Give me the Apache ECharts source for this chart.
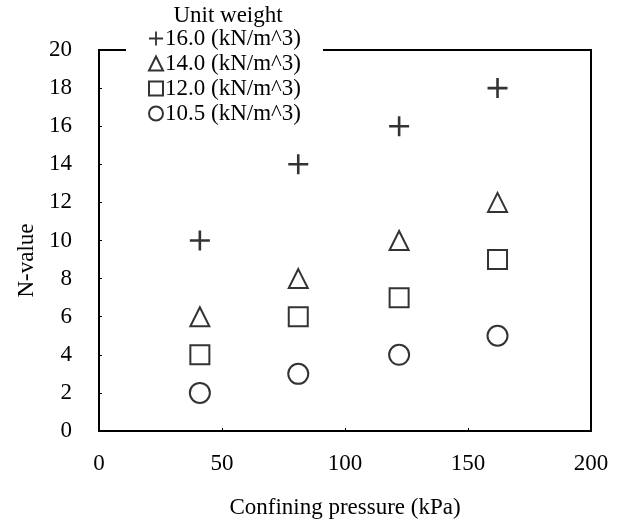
<!DOCTYPE html>
<html>
<head>
<meta charset="utf-8">
<script src="https://cdn.jsdelivr.net/npm/echarts@6/dist/echarts.min.js"></script>
<style>html,body{margin:0;padding:0;background:#fff}#c{width:620px;height:522px}</style>
</head>
<body>
<div id="c"></div>
<script>
var pressure = [41, 81, 122, 162];
var w160 = [10, 14, 16, 18];
var w140 = [6, 8, 10, 12];
var w120 = [4, 6, 7, 9];
var w105 = [2, 3, 4, 5];
var seriesNames = ['16.0 (kN/m^3)', '14.0 (kN/m^3)', '12.0 (kN/m^3)', '10.5 (kN/m^3)'];
var xTicks = [0, 50, 100, 150, 200];
var yTicks = [0, 2, 4, 6, 8, 10, 12, 14, 16, 18, 20];

var FONT = '"Liberation Serif", "Times New Roman", serif';
var plusPath = 'path://M0,4.35 H10 V5.65 H0 Z M4.35,0 H5.65 V10 H4.35 Z';

function pts(ys) { return pressure.map(function (x, i) { return [x, ys[i]]; }); }

var chart = echarts.init(document.getElementById('c'), null, { renderer: 'canvas' });
var hollow = { color: '#fff', borderColor: '#000', borderWidth: 2 };
chart.setOption({
  animation: false,
  backgroundColor: '#fff',
  textStyle: { fontFamily: FONT, color: '#000' },
  title: {
    text: 'Unit weight',
    left: 228, top: 4, textAlign: 'center', padding: 0,
    textStyle: { fontFamily: FONT, fontSize: 23, fontWeight: 'normal', color: '#000' }
  },
  legend: {
    orient: 'vertical', left: 126, top: 27,
    padding: [0, 22, 4, 22],
    backgroundColor: '#fff',
    itemWidth: 14, itemHeight: 14, itemGap: 2,
    textStyle: { fontFamily: FONT, fontSize: 23, color: '#000', lineHeight: 22, padding: [0, 0, 0, -3] },
    data: seriesNames
  },
  grid: { left: 99, right: 29, top: 50, bottom: 91, outerBoundsMode: 'none', containLabel: false, show: true, borderColor: '#000', borderWidth: 2, backgroundColor: 'transparent' },
  xAxis: {
    type: 'value', min: xTicks[0], max: xTicks[xTicks.length - 1], interval: xTicks[1] - xTicks[0],
    name: 'Confining pressure (kPa)', nameLocation: 'middle', nameGap: 65,
    nameTextStyle: { fontFamily: FONT, fontSize: 23, color: '#000' },
    axisLine: { lineStyle: { color: '#000', width: 2 } },
    axisTick: { show: true, inside: true, length: 3, lineStyle: { color: '#000' } },
    axisLabel: { fontFamily: FONT, fontSize: 23, color: '#000', margin: 21 },
    splitLine: { show: false }
  },
  yAxis: {
    type: 'value', min: yTicks[0], max: yTicks[yTicks.length - 1], interval: yTicks[1] - yTicks[0],
    name: 'N-value', nameLocation: 'middle', nameGap: 54,
    nameTextStyle: { fontFamily: FONT, fontSize: 23, color: '#000', padding: [0, 40, 0, 0] },
    axisLine: { lineStyle: { color: '#000', width: 2 } },
    axisTick: { show: true, inside: true, length: 3, lineStyle: { color: '#000' } },
    axisLabel: { fontFamily: FONT, fontSize: 23, color: '#000', margin: 27 },
    splitLine: { show: false }
  },
  series: [
    { name: seriesNames[0], type: 'scatter', data: pts(w160), symbol: plusPath, symbolSize: 20, itemStyle: { color: '#000' } },
    { name: seriesNames[1], type: 'scatter', data: pts(w140), symbol: 'triangle', symbolSize: 19, itemStyle: hollow },
    { name: seriesNames[2], type: 'scatter', data: pts(w120), symbol: 'rect', symbolSize: 19, itemStyle: hollow },
    { name: seriesNames[3], type: 'scatter', data: pts(w105), symbol: 'circle', symbolSize: 20, itemStyle: hollow }
  ]
});
</script>
</body>
</html>
